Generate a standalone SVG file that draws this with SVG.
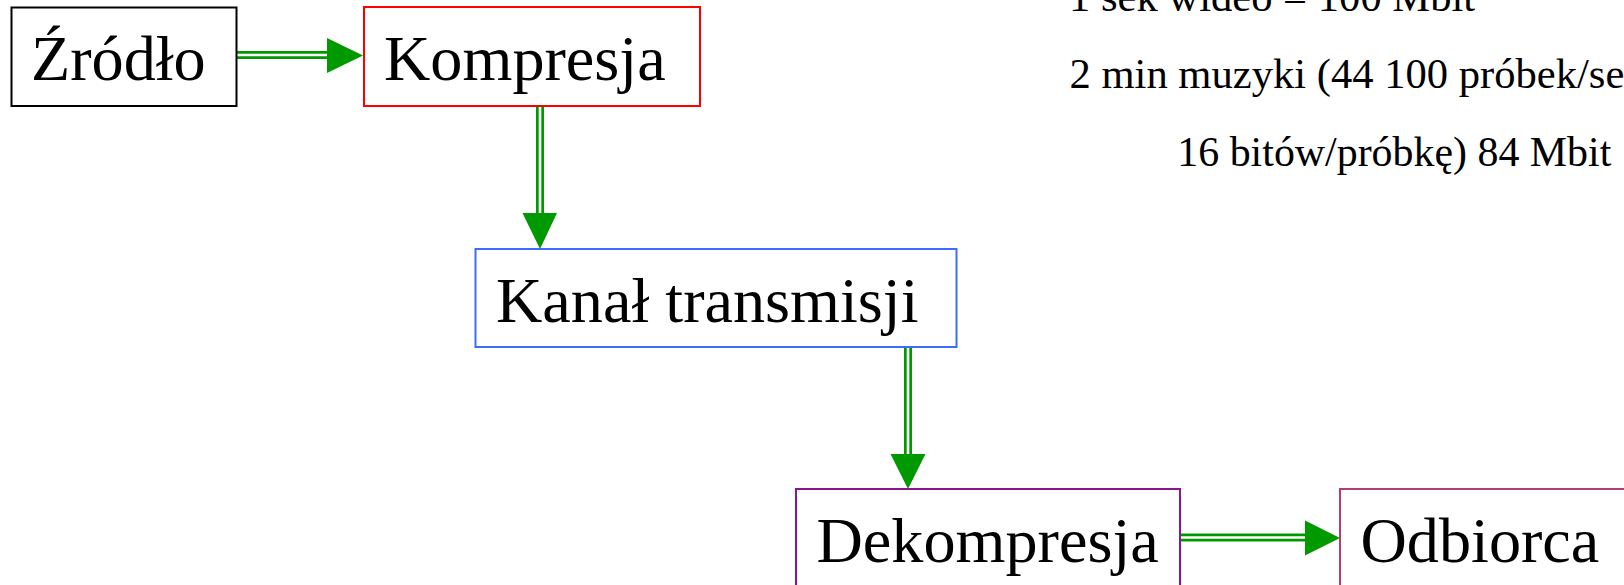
<svg xmlns="http://www.w3.org/2000/svg" width="1624" height="585" viewBox="0 0 1624 585">
  <style>
    .box { fill: #ffffff; stroke-width: 2; }
    .label { font-family: "Liberation Serif", "Times New Roman", serif; font-size: 64.2px; fill: #000000; }
    .note { font-family: "Liberation Serif", "Times New Roman", serif; font-size: 42.6px; fill: #000000; }
    .note-small { font-size: 41.9px; }
    .shaft { stroke: #009900; stroke-width: 8; fill: none; }
    .shaft-core { stroke: #ffffff; stroke-width: 2.6; fill: none; }
    .head { fill: #009900; stroke: none; }
  </style>
  <rect width="1624" height="585" fill="#ffffff"/>

  <!-- connectors: double green shafts with solid triangular heads -->
  <g id="connectors">
    <g id="edge-zrodlo-kompresja">
      <line class="shaft" x1="237" y1="55" x2="328" y2="55"/>
      <line class="shaft-core" x1="237" y1="55" x2="328" y2="55"/>
      <polygon class="head" points="327,38 363,55.5 327,73"/>
    </g>
    <g id="edge-kompresja-kanal">
      <line class="shaft" x1="540" y1="106" x2="540" y2="214"/>
      <line class="shaft-core" x1="540" y1="106" x2="540" y2="214"/>
      <polygon class="head" points="522.5,213 557,213 540,249"/>
    </g>
    <g id="edge-kanal-dekompresja">
      <line class="shaft" x1="908" y1="347" x2="908" y2="455"/>
      <line class="shaft-core" x1="908" y1="347" x2="908" y2="455"/>
      <polygon class="head" points="890.5,454 925.5,454 908,489"/>
    </g>
    <g id="edge-dekompresja-odbiorca">
      <line class="shaft" x1="1181" y1="537.5" x2="1306" y2="537.5"/>
      <line class="shaft-core" x1="1181" y1="537.5" x2="1306" y2="537.5"/>
      <polygon class="head" points="1305,520.5 1340,538 1305,555.5"/>
    </g>
  </g>

  <!-- process nodes -->
  <g id="node-zrodlo">
    <rect class="box" x="11.5" y="7.5" width="225" height="98.5" stroke="#000000"/>
    <text class="label" x="31" y="80">Źródło</text>
  </g>
  <g id="node-kompresja">
    <rect class="box" x="364" y="7" width="336" height="99" stroke="#ff0000"/>
    <text class="label" x="384" y="80">Kompresja</text>
  </g>
  <g id="node-kanal">
    <rect class="box" x="475.5" y="249" width="481" height="98" stroke="#3a6cff"/>
    <text class="label" x="496" y="321.5">Kanał transmisji</text>
  </g>
  <g id="node-dekompresja">
    <rect class="box" x="796" y="489" width="384" height="120" stroke="#8c1490"/>
    <text class="label" x="816.5" y="561.5">Dekompresja</text>
  </g>
  <g id="node-odbiorca">
    <rect class="box" x="1340" y="489" width="400" height="120" stroke="#b03c7c"/>
    <text class="label" x="1360.5" y="561.5">Odbiorca</text>
  </g>

  <!-- data size notes -->
  <g id="notes">
    <text class="note" x="1069" y="10.5">1 sek wideo = 100 Mbit</text>
    <text class="note" x="1069.5" y="88">2 min muzyki (44 100 próbek/se</text>
    <text class="note note-small" x="1177.3" y="165.5">16 bitów/próbkę) 84 Mbit</text>
  </g>
</svg>
